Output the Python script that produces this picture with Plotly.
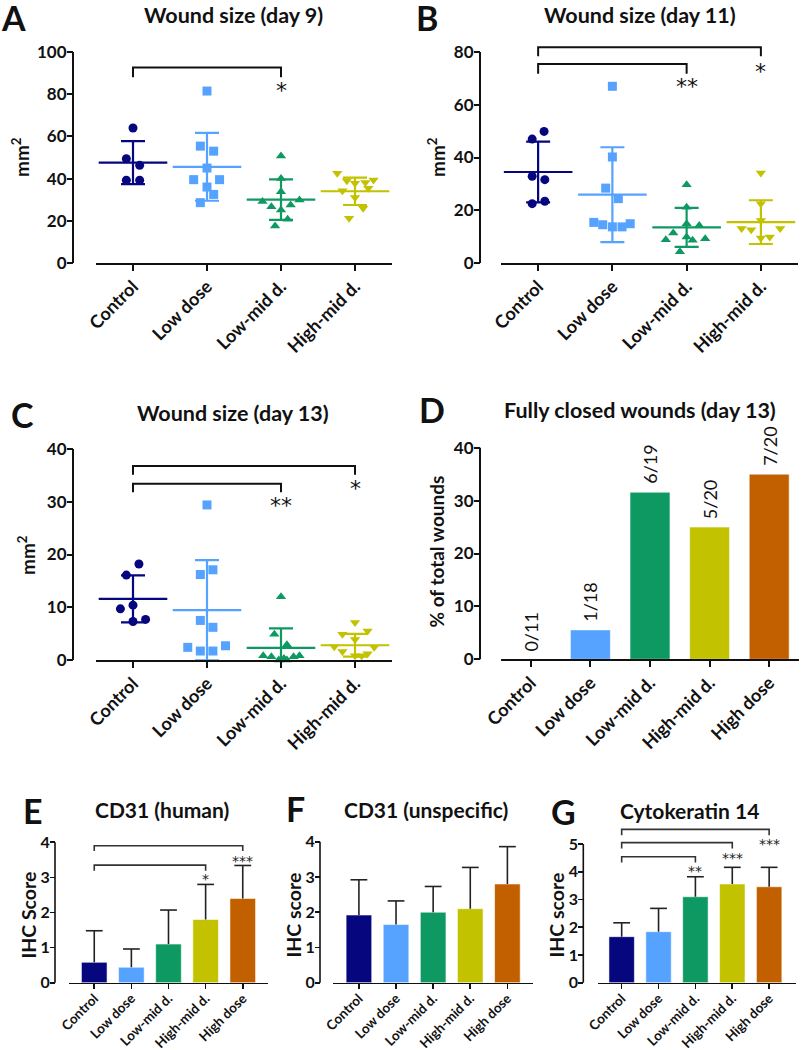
import plotly.graph_objects as go

W, H = 801, 1050
FONT = "Lato"
STARFONT = "DejaVu Sans"
INK = "#111111"

GROUPS4 = ["Control", "Low dose", "Low-mid d.", "High-mid d."]
GROUPS5 = ["Control", "Low dose", "Low-mid d.", "High-mid d.", "High dose"]
COLORS = ["#06067f", "#55a2ff", "#0f9962", "#c2c200", "#c26000"]
SYMBOLS = ["circle", "square", "triangle-up", "triangle-down"]

# ---------------- Panel A: wound size day 9 (mm²) ----------------
A_vals = [
    [64.0, 49.4, 46.3, 39.2, 39.2],
    [81.5, 55.4, 53.0, 45.0, 39.5, 39.5, 36.0, 32.5, 28.6],
    [50.7, 40.1, 33.8, 29.1, 29.9, 26.7, 27.5, 25.1, 20.7, 17.5],
    [42.5, 39.0, 37.8, 38.2, 39.3, 34.3, 35.4, 31.1, 25.9, 21.2],
]
A_jit = [
    [0.0, -0.09, 0.09, -0.09, 0.09],
    [0.0, -0.09, 0.09, 0.0, -0.18, 0.17, 0.0, 0.09, -0.09],
    [0.0, 0.0, 0.0, -0.25, 0.25, -0.13, 0.13, 0.0, 0.09, -0.08],
    [-0.24, -0.11, 0.0, 0.14, 0.25, -0.17, 0.18, 0.0, 0.11, -0.08],
]
A_mean = [47.6, 45.6, 30.0, 34.0]
A_sd = [10.2, 16.1, 9.6, 6.5]
A_brackets = [(0, 2, 92.6, 88.0)]
A_stars = [(2, 83.3, "*")]

# ---------------- Panel B: wound size day 11 ----------------
B_vals = [
    [49.9, 47.0, 32.9, 31.6, 22.5, 23.4],
    [67.0, 40.2, 28.4, 24.4, 15.4, 14.5, 13.7, 13.7, 14.9],
    [29.7, 21.1, 14.9, 14.2, 11.4, 9.9, 9.2, 8.6, 8.8, 4.3],
    [34.1, 22.5, 16.1, 13.1, 12.6, 13.1, 9.5, 9.9],
]
B_jit = [
    [0.08, -0.08, -0.08, 0.09, -0.08, 0.09],
    [0.0, 0.0, -0.09, 0.08, -0.25, -0.13, 0.0, 0.13, 0.24],
    [0.0, 0.0, 0.0, 0.17, -0.18, 0.0, 0.25, 0.08, -0.28, -0.09],
    [0.0, 0.0, 0.0, -0.26, -0.13, 0.26, 0.0, 0.12],
]
B_mean = [34.5, 25.9, 13.5, 15.5]
B_sd = [11.5, 18.0, 7.4, 8.3]
B_brackets = [(0, 3, 81.8, 78.4), (0, 2, 75.5, 71.8)]
B_stars = [(2, 68.1, "**"), (3, 73.8, "*")]

# ---------------- Panel C: wound size day 13 ----------------
C_vals = [
    [18.2, 16.1, 10.4, 9.7, 7.7, 7.3],
    [29.4, 17.1, 16.2, 7.5, 6.2, 2.7, 2.4, 1.7, 1.7],
    [12.0, 4.9, 2.9, 0.8, 0.6, 0.0, 0.0, 0.6, 0.8, 0.3],
    [7.1, 5.5, 4.9, 3.9, 2.5, 2.4, 1.6, 0.8, 0.8, 1.2],
]
C_jit = [
    [0.08, -0.09, 0.0, -0.17, 0.17, 0.0],
    [0.0, 0.08, -0.09, -0.09, 0.08, 0.25, -0.26, -0.09, 0.08],
    [0.0, -0.09, 0.08, -0.24, -0.13, -0.03, 0.08, 0.17, 0.25, 0.04],
    [0.0, 0.17, -0.17, 0.0, -0.28, 0.26, -0.17, 0.0, 0.09, 0.17],
]
C_mean = [11.6, 9.45, 2.3, 2.8]
C_sd = [4.45, 9.5, 3.7, 2.15]
C_brackets = [(0, 3, 36.8, 35.1), (0, 2, 33.4, 31.8)]
C_stars = [(2, 29.8, "**"), (3, 33.0, "*")]

# ---------------- Panel D: fully closed wounds ----------------
D_pct = [0.0, 5.56, 31.58, 25.0, 35.0]
D_labels = ["0/11", "1/18", "6/19", "5/20", "7/20"]

# ---------------- Panels E, F, G: IHC scores ----------------
E_mean = [0.58, 0.44, 1.10, 1.80, 2.40]
E_sd = [0.90, 0.52, 0.97, 1.00, 0.94]
E_brackets = [(0, 4, 3.90, 3.75), (0, 3, 3.35, 3.19)]
E_stars = [(3, 3.0, "*"), (4, 3.52, "***")]

F_mean = [1.92, 1.65, 2.00, 2.10, 2.80]
F_sd = [1.00, 0.67, 0.73, 1.17, 1.06]

G_mean = [1.66, 1.84, 3.10, 3.56, 3.46]
G_sd = [0.50, 0.84, 0.72, 0.60, 0.70]
G_brackets = [(0, 4, 5.53, 5.32), (0, 3, 5.05, 4.84), (0, 2, 4.54, 4.33)]
G_stars = [(2, 4.09, "**"), (3, 4.58, "***"), (4, 5.06, "***")]

# ---------------- layout geometry (pixels) ----------------
PANELS = {
    "A": dict(n=1, x0=96, x1=392, yb=263, yt=52, yr=[0, 100], ticks=[0, 20, 40, 60, 80, 100], ypos=73, xr=[-0.5, 3.5], cats=GROUPS4),
    "B": dict(n=2, x0=501, x1=798, yb=263, yt=42.8, yr=[0, 83.5], ticks=[0, 20, 40, 60, 80], ypos=480, xr=[-0.5, 3.5], cats=GROUPS4),
    "C": dict(n=3, x0=96, x1=392, yb=660, yt=449, yr=[0, 40], ticks=[0, 10, 20, 30, 40], ypos=73, xr=[-0.5, 3.5], cats=GROUPS4),
    "D": dict(n=4, x0=501, x1=799, yb=659.3, yt=447.7, yr=[0, 40], ticks=[0, 10, 20, 30, 40], ypos=480, xr=[-0.5, 4.5], cats=GROUPS5),
    "E": dict(n=5, x0=69, x1=268, yb=982.7, yt=842.3, yr=[0, 4], ticks=[0, 1, 2, 3, 4], ypos=55, xr=[-0.68, 4.68], cats=GROUPS5),
    "F": dict(n=6, x0=333.3, x1=533, yb=982.7, yt=841.7, yr=[0, 4], ticks=[0, 1, 2, 3, 4], ypos=320, xr=[-0.69, 4.69], cats=GROUPS5),
    "G": dict(n=7, x0=597.7, x1=795.7, yb=982.7, yt=827.4, yr=[0, 5.6], ticks=[0, 1, 2, 3, 4, 5], ypos=583.3, xr=[-0.65, 4.72], cats=GROUPS5),
}


def ax_ids(n):
    s = "" if n == 1 else str(n)
    return "x" + s, "y" + s, "xaxis" + s, "yaxis" + s


fig = go.Figure()
shapes = []
annotations = []
layout_axes = {}

for key, p in PANELS.items():
    xr_id, yr_id, xname, yname = ax_ids(p["n"])
    small = key in ("E", "F", "G")
    lw = 1.6 if small else 2
    layout_axes[xname] = dict(
        domain=[p["x0"] / W, p["x1"] / W], range=p["xr"], anchor=yr_id, automargin=False,
        tickmode="array", tickvals=list(range(len(p["cats"]))), ticktext=p["cats"],
        tickangle=-45, ticks="outside", ticklen=5 if small else 6, tickwidth=lw, tickcolor=INK,
        ticklabelstandoff=-4 if small else -2,
        showline=True, linewidth=lw, linecolor=INK, showgrid=False, zeroline=False,
        tickfont=dict(family=FONT, size=13.5 if small else 18, color=INK, weight="bold"),
        fixedrange=True,
    )
    layout_axes[yname] = dict(
        domain=[1 - p["yb"] / H, 1 - p["yt"] / H], range=p["yr"], anchor="free", automargin=False,
        position=p["ypos"] / W, tickmode="array", tickvals=p["ticks"],
        ticks="outside", ticklen=5 if small else 6, tickwidth=lw, tickcolor=INK,
        ticklabelstandoff=-3,
        showline=False, showgrid=False, zeroline=False,
        tickfont=dict(family=FONT, size=16 if small else 17, color=INK, weight="bold"),
        fixedrange=True,
    )
    shapes.append(dict(
        type="line", xref="paper", yref=yr_id + " domain",
        x0=p["ypos"] / W, x1=p["ypos"] / W, y0=0, y1=p["ticks"][-1] / p["yr"][1],
        line=dict(color=INK, width=lw),
    ))

# ---------- dot plots A, B, C ----------
dot_data = {
    "A": (A_vals, A_jit, A_mean, A_sd, A_brackets, A_stars),
    "B": (B_vals, B_jit, B_mean, B_sd, B_brackets, B_stars),
    "C": (C_vals, C_jit, C_mean, C_sd, C_brackets, C_stars),
}
for key, (vals, jit, mean, sd, brackets, stars) in dot_data.items():
    xr_id, yr_id, _, _ = ax_ids(PANELS[key]["n"])
    for i in range(4):
        fig.add_trace(go.Scatter(
            x=[i + j for j in jit[i]], y=vals[i], mode="markers", xaxis=xr_id, yaxis=yr_id,
            marker=dict(symbol=SYMBOLS[i], size=9, color=COLORS[i], line=dict(width=0)),
            cliponaxis=False, showlegend=False, hoverinfo="skip",
        ))
        fig.add_trace(go.Scatter(
            x=[i], y=[mean[i]], mode="markers", xaxis=xr_id, yaxis=yr_id,
            marker=dict(symbol="line-ew", size=49, color=COLORS[i], line=dict(width=2.2, color=COLORS[i])),
            error_y=dict(type="data", array=[sd[i]], visible=True, color=COLORS[i], thickness=2.2, width=12),
            cliponaxis=False, showlegend=False, hoverinfo="skip",
        ))
    for (a, b, top, drop) in brackets:
        fig.add_trace(go.Scatter(
            x=[a, a, b, b], y=[drop, top, top, drop], mode="lines", xaxis=xr_id, yaxis=yr_id,
            line=dict(color=INK, width=2), showlegend=False, hoverinfo="skip",
        ))
    for (xc, yc, txt) in stars:
        annotations.append(dict(
            x=xc, y=yc, xref=xr_id, yref=yr_id, text=txt, showarrow=False,
            font=dict(family=STARFONT, size=22, color=INK), yshift=-3,
        ))

# ---------- panel D ----------
fig.add_trace(go.Bar(
    x=list(range(5)), y=D_pct, xaxis="x4", yaxis="y4", width=0.67,
    marker=dict(color=COLORS, line=dict(color="rgba(255,255,255,0.55)", width=1)),
    showlegend=False, hoverinfo="skip",
))
for i, (v, lab) in enumerate(zip(D_pct, D_labels)):
    annotations.append(dict(
        x=i, y=v, xref="x4", yref="y4", text=lab, showarrow=False, textangle=-90,
        yanchor="bottom", xanchor="center", yshift=6,
        font=dict(family=FONT, size=18, color=INK),
    ))

# ---------- panels E, F, G ----------
bar_data = {
    "E": (E_mean, E_sd, E_brackets, E_stars),
    "F": (F_mean, F_sd, [], []),
    "G": (G_mean, G_sd, G_brackets, G_stars),
}
for key, (mean, sd, brackets, stars) in bar_data.items():
    xr_id, yr_id, _, _ = ax_ids(PANELS[key]["n"])
    fig.add_trace(go.Bar(
        x=list(range(5)), y=mean, xaxis=xr_id, yaxis=yr_id, width=0.69,
        marker=dict(color=COLORS, line=dict(color="rgba(255,255,255,0.55)", width=1)),
        error_y=dict(type="data", symmetric=False, array=sd, arrayminus=[0] * 5,
                     color="#222222", thickness=1.6, width=0),
        showlegend=False, hoverinfo="skip",
    ))
    # upper cap of each one-sided SD whisker
    fig.add_trace(go.Scatter(
        x=list(range(5)), y=[m + s for m, s in zip(mean, sd)], mode="markers",
        xaxis=xr_id, yaxis=yr_id,
        marker=dict(symbol="line-ew", size=12, color="#222222", line=dict(width=1.6, color="#222222")),
        showlegend=False, hoverinfo="skip", cliponaxis=False,
    ))
    for (a, b, top, drop) in brackets:
        fig.add_trace(go.Scatter(
            x=[a, a, b, b], y=[drop, top, top, drop], mode="lines", xaxis=xr_id, yaxis=yr_id,
            line=dict(color="#333333", width=1.6), showlegend=False, hoverinfo="skip",
        ))
    for (xc, yc, txt) in stars:
        annotations.append(dict(
            x=xc, y=yc, xref=xr_id, yref=yr_id, text=txt, showarrow=False,
            font=dict(family=STARFONT, size=14, color="#222222"), yshift=-2,
        ))

# ---------- titles, panel letters, axis titles ----------
TITLES = [
    ("Wound size (day 9)", 233, 15, 21.5),
    ("Wound size (day 11)", 639.5, 15, 21.5),
    ("Wound size (day 13)", 232.5, 413, 21.5),
    ("Fully closed wounds (day 13)", 640, 410, 21.5),
    ("CD31 (human)", 162, 809, 21),
    ("CD31 (unspecific)", 426, 809, 21),
    ("Cytokeratin 14", 689.5, 810, 21),
]
LETTERS = [("A", 13.5, 17), ("B", 427, 17.5), ("C", 22, 415), ("D", 432, 410),
           ("E", 33, 810), ("F", 295, 808), ("G", 563, 811)]
YTITLES = [
    ("mm<sup>2</sup>", 21, 157, 19),
    ("mm<sup>2</sup>", 437, 157, 19),
    ("mm<sup>2</sup>", 26, 555, 19),
    ("% of total wounds", 435.5, 552, 19),
    ("IHC Score", 27.5, 915, 19.5),
    ("IHC score", 292.5, 915, 19.5),
    ("IHC score", 555.5, 915, 19.5),
]
for txt, xc, yc, fs in TITLES:
    annotations.append(dict(x=xc / W, y=1 - yc / H, xref="paper", yref="paper", text=txt,
                            showarrow=False, xanchor="center", yanchor="middle",
                            font=dict(family=FONT, size=fs, color=INK, weight="bold")))
for txt, xc, yc in LETTERS:
    annotations.append(dict(x=xc / W, y=1 - yc / H, xref="paper", yref="paper", text=txt,
                            showarrow=False, xanchor="center", yanchor="middle",
                            font=dict(family=FONT, size=34, color=INK, weight="bold")))
for txt, xc, yc, fs in YTITLES:
    annotations.append(dict(x=xc / W, y=1 - yc / H, xref="paper", yref="paper", text=txt,
                            showarrow=False, xanchor="center", yanchor="middle", textangle=-90,
                            font=dict(family=FONT, size=fs, color=INK, weight="bold")))

fig.update_layout(
    template="none",
    width=W, height=H, margin=dict(l=0, r=0, t=0, b=0, autoexpand=False),
    paper_bgcolor="white", plot_bgcolor="white", showlegend=False,
    shapes=shapes, annotations=annotations, bargap=0.3,
    font=dict(family=FONT, color=INK),
    **layout_axes,
)

fig.write_html(
    "out.html",
    config={"displayModeBar": False, "staticPlot": True},
    post_script="document.body.style.margin='0px';document.body.style.padding='0px';"
                "document.documentElement.style.overflow='hidden';",
)
